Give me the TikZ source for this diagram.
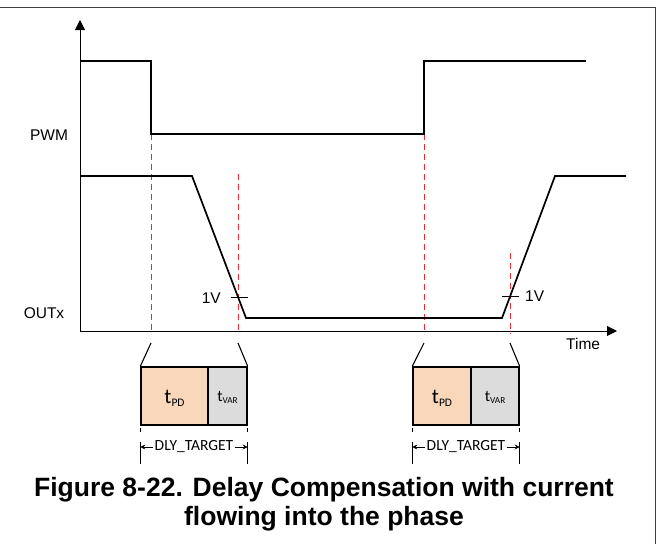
\documentclass[tikz,border=0pt]{standalone}
\usepackage{fontspec}
\setmainfont{Liberation Sans}
\newfontfamily\calfont{Carlito}
\usetikzlibrary{arrows.meta}
\definecolor{peach}{RGB}{248,215,187}
\definecolor{vargray}{RGB}{220,220,220}
\definecolor{dred}{RGB}{232,45,50}
\begin{document}
\begin{tikzpicture}[x=1pt,y=-1pt,
  wave/.style={line width=1.7pt, line join=miter},
  axis/.style={line width=0.9pt},
  guide/.style={dred, line width=1pt, dash pattern=on 6pt off 4pt},
  link/.style={line width=1.1pt},
  tbox/.style={draw, line width=1.4pt, minimum height=58pt, inner sep=0pt},
  lbl/.style={font=\fontsize{15.5}{15.5}\selectfont, inner sep=0pt},
  dly/.style={font=\calfont\fontsize{15.5}{15.5}\selectfont, fill=white, inner sep=1.5pt},
  dimarrow/.style={line width=0.6pt, -{Stealth[length=5pt,width=5pt]}},
  dimtick/.style={line width=0.6pt, dash pattern=on 4pt off 10pt on 22pt off 10pt},
  bigt/.style={font=\calfont\fontsize{21}{21}\selectfont, inner sep=0pt},
  smallt/.style={font=\calfont\fontsize{16}{16}\selectfont, inner sep=0pt},
  captext/.style={font=\fontsize{26.5}{26.5}\selectfont\bfseries, inner sep=0pt},
  ]
\useasboundingbox (0,0) rectangle (658,544);
% frame
\draw[line width=1pt, black!75] (0,7.5) -- (655.5,7.5) -- (655.5,544);

% axes
\coordinate (O) at (80,331);
\coordinate (ytip) at (80,20);
\coordinate (xtip) at (617,331);
\draw[axis, -{Triangle[width=10pt,length=10pt]}] (O) -- (ytip);
\draw[axis, -{Triangle[width=10pt,length=10pt]}] (O) -- (xtip);

% labels
\node[lbl] (pwm) at (49,135) {PWM};
\node[lbl] (outx) at (44,313) {OUTx};
\node[lbl, anchor=west] (time) at (566,344) {Time};

% red guides
\coordinate (g1t) at (151,134); \coordinate (g1b) at (151,334);
\coordinate (g2t) at (238,174); \coordinate (g2b) at (238,334);
\coordinate (g3t) at (424,134); \coordinate (g3b) at (424,334);
\coordinate (g4t) at (510,253); \coordinate (g4b) at (510,334);
\draw[guide] (g1t) -- (g1b);
\draw[guide] (g2t) -- (g2b);
\draw[guide] (g3t) -- (g3b);
\draw[guide] (g4t) -- (g4b);

% waveforms
\draw[wave] (80,61) -- (151,61) -- (151,134) -- (424,134) -- (424,61) -- (586,61);
\draw[wave] (80,176) -- (192,176) -- (246,318) -- (502,318) -- (555,176) -- (626,176);

% 1V ticks
\coordinate (k1a) at (231,297); \coordinate (k1b) at (248,297);
\coordinate (k2a) at (502,296); \coordinate (k2b) at (519,296);
\draw[line width=1pt] (k1a) -- (k1b);
\draw[line width=1pt] (k2a) -- (k2b);
\node[lbl, anchor=east] (v1) at (221,298) {1V};
\node[lbl, anchor=west] (v2) at (525,296) {1V};

% boxes
\node[tbox, fill=peach, minimum width=67pt] (pd1) at (174.5,396) {};
\node[tbox, fill=vargray, minimum width=39pt] (var1) at (227.5,396) {};
\node[tbox, fill=peach, minimum width=58pt] (pd2) at (442,396) {};
\node[tbox, fill=vargray, minimum width=48pt] (var2) at (495,396) {};
\node[bigt, anchor=base] at (174.5,403) {t\raisebox{-3pt}{\fontsize{11.5}{11.5}\selectfont PD}};
\node[smallt, anchor=base] at (227.5,401.5) {t\raisebox{-2pt}{\fontsize{9.2}{9.2}\selectfont VAR}};
\node[bigt, anchor=base] at (442,403) {t\raisebox{-3pt}{\fontsize{11.5}{11.5}\selectfont PD}};
\node[smallt, anchor=base] at (495,401.5) {t\raisebox{-2pt}{\fontsize{9.2}{9.2}\selectfont VAR}};

% links
\coordinate (l1) at (151,343); \coordinate (l2) at (238,343);
\coordinate (l3) at (424,343); \coordinate (l4) at (510,343);
\draw[link] (l1) -- (pd1.north west);
\draw[link] (l2) -- (var1.north east);
\draw[link] (l3) -- (pd2.north west);
\draw[link] (l4) -- (var2.north east);

% DLY_TARGET dimensions
\node[dly] (dly1) at (194,447) {DLY\_TARGET};
\node[dly] (dly2) at (466,447) {DLY\_TARGET};
\draw[dimarrow] (dly1.west) -- (dly1.west -| pd1.west);
\draw[dimarrow] (dly1.east) -- (dly1.east -| var1.east);
\draw[dimarrow] (dly2.west) -- (dly2.west -| pd2.west);
\draw[dimarrow] (dly2.east) -- (dly2.east -| var2.east);
\draw[dimtick] ([yshift=-2pt]pd1.south west) -- ++(0,36);
\draw[dimtick] ([yshift=-2pt]var1.south east) -- ++(0,36);
\draw[dimtick] ([yshift=-2pt]pd2.south west) -- ++(0,36);
\draw[dimtick] ([yshift=-2pt]var2.south east) -- ++(0,36);

% caption
\node[captext, anchor=base] (cap1) at (324,496) {Figure 8-22. Delay Compensation with current};
\node[captext, anchor=base] (cap2) at (324,525) {flowing into the phase};
\end{tikzpicture}
\end{document}
